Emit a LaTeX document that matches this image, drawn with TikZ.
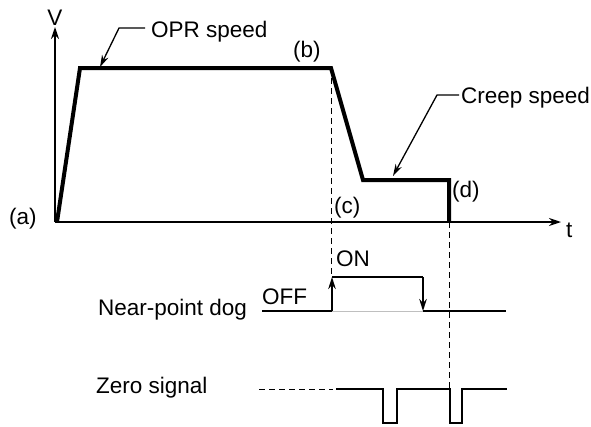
\documentclass[tikz,border=0pt]{standalone}
\usepackage{fontspec}
\setmainfont{Liberation Sans}
\usetikzlibrary{arrows.meta}
\begin{document}
\begin{tikzpicture}[x=1pt,y=-1pt,
  lbl/.style={inner sep=0pt,anchor=base west,font=\fontsize{22.5}{25}\selectfont},
  axis/.style={line width=1.4pt,-{Stealth[length=12pt,width=8pt]}},
  profile/.style={line width=4pt,line join=miter},
  sig/.style={line width=2pt},
  guide/.style={line width=0.9pt,dash pattern=on 6pt off 4pt},
  leader/.style={line width=1.3pt,-{Stealth[length=12pt,width=7pt]}},
  edge/.style={line width=2pt,-{Stealth[length=12pt,width=7.5pt]}}]
\useasboundingbox (0,0) rectangle (591,426);
% coordinates
\coordinate (O) at (55,222);
\coordinate (Vtop) at (55,27);
\coordinate (tend) at (561,222);
\coordinate (p0) at (57,222);
\coordinate (p1) at (80,68);
\coordinate (p2) at (331,68);
\coordinate (p3) at (363,180);
\coordinate (p4) at (449,180);
\coordinate (p5) at (449,222);
% axes
\draw[axis] (O) -- (Vtop);
\draw[axis] (O) -- (tend);
% speed profile
\draw[profile] (p0) -- (p1) -- (p2) -- (p3) -- (p4) -- (p5);
% labels
\node[lbl,anchor=base] (V) at (55,25) {V};
\node[lbl] (t) at (566,237) {t};
\node[lbl] (a) at (9,224) {(a)};
\node[lbl] (b) at (293,57) {(b)};
\node[lbl] (c) at (334,213) {(c)};
\node[lbl] (d) at (452,197) {(d)};
\node[lbl] (opr) at (151,37) {OPR speed};
\node[lbl] (creep) at (461,103) {Creep speed};
\node[lbl] (dog) at (98,315) {Near-point dog};
\node[lbl] (zero) at (96,393) {Zero signal};
\node[lbl] (off) at (262,304) {OFF};
\node[lbl] (on) at (336,266) {ON};
% leaders
\coordinate (l1a) at (145,28);
\coordinate (l1b) at (119,28);
\coordinate (l1t) at (100,67);
\draw[leader] (l1a) -- (l1b) -- (l1t);
\coordinate (l2a) at (459,95);
\coordinate (l2b) at (437,95);
\coordinate (l2t) at (393,176);
\draw[leader] (l2a) -- (l2b) -- (l2t);
% near-point dog signal
\coordinate (d0) at (262,311);
\coordinate (d1) at (332,311);
\coordinate (d2) at (332,277);
\coordinate (d3) at (423,277);
\coordinate (d4) at (423,311);
\coordinate (d5) at (506,311);
\draw[line width=0.8pt,gray!50] (d1) -- (d4);
\draw[sig] (d0) -- (d1);
\draw[edge] (d1) -- (d2);
\draw[sig] (d2) -- (d3);
\draw[edge] (d3) -- (d4);
\draw[sig] (d4) -- (d5);
% zero signal
\coordinate (z0) at (259,389);
\coordinate (z1) at (333,389);
\coordinate (z2) at (336,389);
\coordinate (z3) at (507,389);
\draw[guide] (z0) -- (z1);
\draw[sig] (z2) -- (383,389) -- (383,423) -- (397,423) -- (397,389)
  -- (450,389) -- (450,423) -- (462,423) -- (462,389) -- (z3);
% guide lines
\coordinate (g1b) at (331,277);
\coordinate (g2t) at (449,222);
\coordinate (g2b) at (449,389);
\draw[guide] (p2) -- (g1b);
\draw[guide] (g2t) -- (g2b);
\end{tikzpicture}
\end{document}
